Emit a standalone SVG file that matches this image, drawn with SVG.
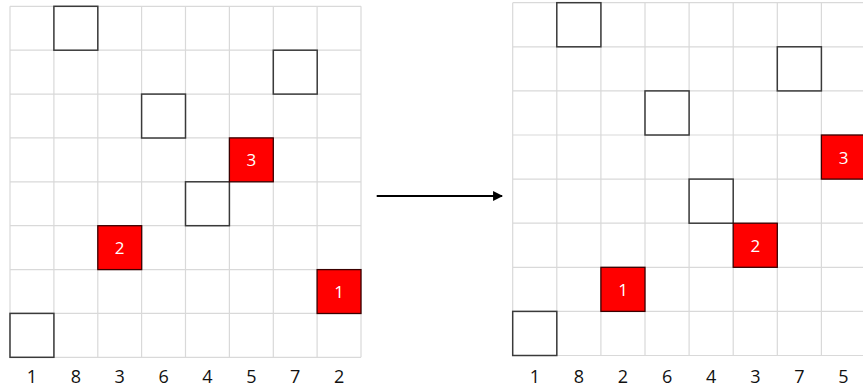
<svg xmlns="http://www.w3.org/2000/svg" width="863" height="388" viewBox="0 0 863 388">
<defs>
<style>
.grid{stroke:#d9d9d9;stroke-width:1.2;fill:none}
.box{fill:#ffffff;stroke:#3a3a3a;stroke-width:1.5}
.red{fill:#ff0000;stroke:#3a0000;stroke-width:1.3}
.lbl{font-family:"Open Sans","Liberation Sans",sans-serif;font-size:18px;fill:#111;text-anchor:middle}
.num{font-family:"Open Sans","Liberation Sans",sans-serif;font-size:17px;fill:#ffffff;text-anchor:middle}
</style>
<marker id="ah" viewBox="0 0 10 10" refX="9" refY="5" markerWidth="4.5" markerHeight="4.5" orient="auto" markerUnits="strokeWidth">
<path d="M0,0 L10,5 L0,10 z" fill="#000"/>
</marker>
</defs>
<rect width="863" height="388" fill="#ffffff"/>
<g id="left-grid">
<path class="grid" d="M10,6.3V357.3M53.9,6.3V357.3M97.8,6.3V357.3M141.6,6.3V357.3M185.5,6.3V357.3M229.4,6.3V357.3M273.3,6.3V357.3M317.1,6.3V357.3M361,6.3V357.3M10,6.3H361M10,50.2H361M10,94.1H361M10,137.9H361M10,181.8H361M10,225.7H361M10,269.6H361M10,313.4H361M10,357.3H361"/>
</g>
<g id="left-boxes">
<rect class="box" x="53.9" y="6.3" width="43.9" height="43.9"/>
<rect class="box" x="273.3" y="50.2" width="43.9" height="43.9"/>
<rect class="box" x="141.6" y="94.1" width="43.9" height="43.9"/>
<rect class="box" x="185.5" y="181.8" width="43.9" height="43.9"/>
<rect class="box" x="10" y="313.4" width="43.9" height="43.9"/>
</g>
<g id="left-red-3"><rect class="red" x="229.4" y="137.9" width="43.9" height="43.9"/><text class="num" x="251.3" y="166">3</text></g>
<g id="left-red-2"><rect class="red" x="97.8" y="225.7" width="43.9" height="43.9"/><text class="num" x="119.7" y="254">2</text></g>
<g id="left-red-1"><rect class="red" x="317.1" y="269.6" width="43.9" height="43.9"/><text class="num" x="339.1" y="298">1</text></g>
<g id="left-labels">
<text class="lbl" x="32" y="383">1</text>
<text class="lbl" x="75.8" y="383">8</text>
<text class="lbl" x="119.7" y="383">3</text>
<text class="lbl" x="163.6" y="383">6</text>
<text class="lbl" x="207.5" y="383">4</text>
<text class="lbl" x="251.3" y="383">5</text>
<text class="lbl" x="295.2" y="383">7</text>
<text class="lbl" x="339.1" y="383">2</text>
</g>
<g id="connectors">
<line x1="376.7" y1="196" x2="502" y2="196" stroke="#000" stroke-width="2.2" marker-end="url(#ah)"/>
</g>
<g id="right-grid">
<path class="grid" d="M512.7,2.7V355.5M556.8,2.7V355.5M600.9,2.7V355.5M645,2.7V355.5M689.1,2.7V355.5M733.2,2.7V355.5M777.3,2.7V355.5M821.4,2.7V355.5M865.5,2.7V355.5M512.7,2.7H865.5M512.7,46.8H865.5M512.7,90.9H865.5M512.7,135H865.5M512.7,179.1H865.5M512.7,223.2H865.5M512.7,267.3H865.5M512.7,311.4H865.5M512.7,355.5H865.5"/>
</g>
<g id="right-boxes">
<rect class="box" x="556.8" y="2.7" width="44.1" height="44.1"/>
<rect class="box" x="777.3" y="46.8" width="44.1" height="44.1"/>
<rect class="box" x="645" y="90.9" width="44.1" height="44.1"/>
<rect class="box" x="689.1" y="179.1" width="44.1" height="44.1"/>
<rect class="box" x="512.7" y="311.4" width="44.1" height="44.1"/>
</g>
<g id="right-red-3"><rect class="red" x="821.4" y="135" width="44.1" height="44.1"/><text class="num" x="843.5" y="163.5">3</text></g>
<g id="right-red-2"><rect class="red" x="733.2" y="223.2" width="44.1" height="44.1"/><text class="num" x="755.3" y="251.5">2</text></g>
<g id="right-red-1"><rect class="red" x="600.9" y="267.3" width="44.1" height="44.1"/><text class="num" x="623" y="295.5">1</text></g>
<g id="right-labels">
<text class="lbl" x="534.8" y="382.5">1</text>
<text class="lbl" x="578.9" y="382.5">8</text>
<text class="lbl" x="623" y="382.5">2</text>
<text class="lbl" x="667.1" y="382.5">6</text>
<text class="lbl" x="711.2" y="382.5">4</text>
<text class="lbl" x="755.3" y="382.5">3</text>
<text class="lbl" x="799.4" y="382.5">7</text>
<text class="lbl" x="843.5" y="382.5">5</text>
</g>
</svg>
